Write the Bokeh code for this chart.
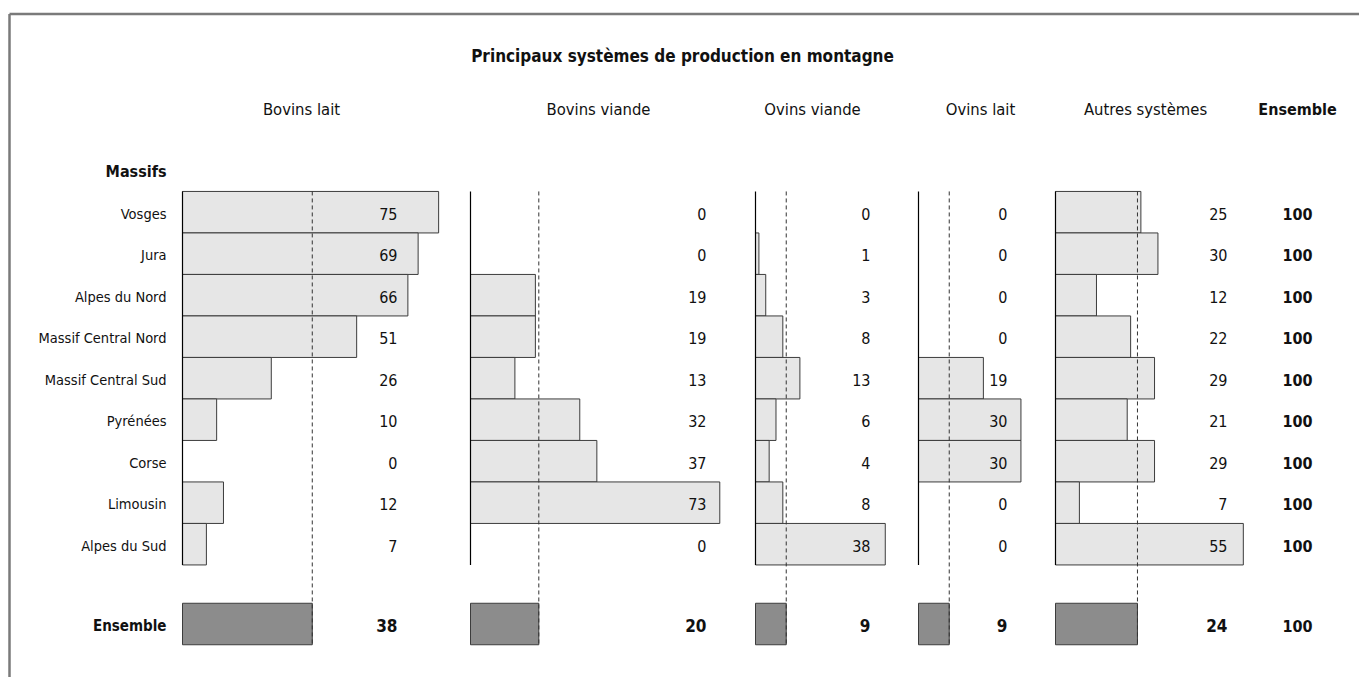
from bokeh.plotting import figure
from bokeh.models import Range1d, ColumnDataSource
from bokeh.core.properties import value
from bokeh.embed import file_html
from bokeh.resources import INLINE

# ---------------- data ----------------
massifs = ["Vosges", "Jura", "Alpes du Nord", "Massif Central Nord",
           "Massif Central Sud", "Pyrénées", "Corse", "Limousin", "Alpes du Sud"]
systemes = ["Bovins lait", "Bovins viande", "Ovins viande", "Ovins lait", "Autres systèmes"]
bovins_lait = [75, 69, 66, 51, 26, 10, 0, 12, 7]
bovins_viande = [0, 0, 19, 19, 13, 32, 37, 73, 0]
ovins_viande = [0, 1, 3, 8, 13, 6, 4, 8, 38]
ovins_lait = [0, 0, 0, 0, 19, 30, 30, 0, 0]
autres_systemes = [25, 30, 12, 22, 29, 21, 29, 7, 55]
ensemble_massif = [100, 100, 100, 100, 100, 100, 100, 100, 100]
ensemble_systeme = [38, 20, 9, 9, 24]
ensemble_total = 100
title = "Principaux systèmes de production en montagne"

series = [bovins_lait, bovins_viande, ovins_viande, ovins_lait, autres_systemes]

# ---------------- layout ----------------
W, H = 1359, 677
K = 3.415          # pixels per percentage point
ROW0, PITCH = 211.7, 41.5


def ux(px):
    return px / K


def uy(py):
    return (py - ROW0) / PITCH


FONT = value("'DejaVu Sans Condensed', 'Liberation Sans Narrow', sans-serif")
INK = "#111111"

p = figure(width=W, height=H, x_range=Range1d(0, W / K),
           y_range=Range1d(uy(H), uy(0)),
           output_backend="svg", toolbar_location=None,
           x_axis_location=None, y_axis_location=None,
           min_border=0, outline_line_color=None)
p.grid.visible = False
p.background_fill_color = "white"

# frame (left and top rules)
p.line(x=[ux(9), ux(9)], y=[uy(H), uy(13.5)], line_color="#7a7a7a", line_width=2.5)
p.line(x=[ux(9), ux(W)], y=[uy(13.5), uy(13.5)], line_color="#7a7a7a", line_width=2.5)

panel_x0 = [ux(182), ux(470), ux(755), ux(918), ux(1055)]
label_x = [ux(397), ux(706), ux(870), ux(1007), ux(1227)]
header_x = [ux(301), ux(598), ux(812), ux(980), ux(1145)]
ens_x = ux(1312)
ens_header_x = ux(1297)
ENS_ROW = uy(623.5)
rows = list(range(len(massifs)))
DY = 0.04  # text sits slightly below bar centre

for x0, lx, vals, moy in zip(panel_x0, label_x, series, ensemble_systeme):
    ys = [r for r, v in zip(rows, vals) if v > 0]
    vs = [v for v in vals if v > 0]
    src = ColumnDataSource(dict(y=ys, left=[x0] * len(vs), right=[x0 + v for v in vs]))
    p.hbar(y="y", left="left", right="right", height=1.0, source=src,
           fill_color="#e6e6e6", line_color="#3c3c3c", line_width=1)
    p.hbar(y=[ENS_ROW], left=[x0], right=[x0 + moy], height=1.0,
           fill_color="#8c8c8c", line_color="#3c3c3c", line_width=1)
    # baseline
    p.segment(x0=[x0], y0=[-0.5], x1=[x0], y1=[len(massifs) - 0.5],
              line_color="black", line_width=1.2)
    # average (dashed)
    p.segment(x0=[x0 + moy], y0=[-0.5], x1=[x0 + moy], y1=[ENS_ROW + 0.5],
              line_color="#333333", line_width=1, line_dash="4 3")
    # value labels
    p.text(x=[lx] * len(vals), y=[r + DY for r in rows], text=[str(v) for v in vals],
           text_align="right", text_baseline="middle", text_font=FONT,
           text_font_size="16px", text_color=INK)
    p.text(x=[lx], y=[ENS_ROW + DY], text=[str(moy)], text_align="right",
           text_baseline="middle", text_font=FONT, text_font_size="17px",
           text_font_style="bold", text_color=INK)

# Ensemble column
p.text(x=[ens_x] * len(massifs), y=[r + DY for r in rows],
       text=[str(v) for v in ensemble_massif],
       text_align="right", text_baseline="middle", text_font=FONT,
       text_font_size="16px", text_font_style="bold", text_color=INK)
p.text(x=[ens_x], y=[ENS_ROW + DY], text=[str(ensemble_total)], text_align="right",
       text_baseline="middle", text_font=FONT, text_font_size="16px",
       text_font_style="bold", text_color=INK)

# row labels
p.text(x=[ux(166)] * len(massifs), y=[r + DY for r in rows], text=massifs,
       text_align="right", text_baseline="middle", text_font=FONT,
       text_font_size="14.5px", text_color=INK)
p.text(x=[ux(166)], y=[ENS_ROW + DY], text=["Ensemble"], text_align="right",
       text_baseline="middle", text_font=FONT, text_font_size="15px",
       text_font_style="bold", text_color=INK)
p.text(x=[ux(166)], y=[uy(171)], text=["Massifs"], text_align="right",
       text_baseline="middle", text_font=FONT, text_font_size="16px",
       text_font_style="bold", text_color=INK)

# headers
p.text(x=header_x, y=[uy(109)] * len(systemes), text=systemes, text_align="center",
       text_baseline="middle", text_font=FONT, text_font_size="16.5px", text_color=INK)
p.text(x=[ens_header_x], y=[uy(109)], text=["Ensemble"], text_align="center",
       text_baseline="middle", text_font=FONT, text_font_size="16px",
       text_font_style="bold", text_color=INK)

# title
p.text(x=[ux(682)], y=[uy(55)], text=[title], text_align="center",
       text_baseline="middle", text_font=FONT, text_font_size="17px",
       text_font_style="bold", text_color=INK)

open("out.html", "w").write(file_html(p, INLINE))
